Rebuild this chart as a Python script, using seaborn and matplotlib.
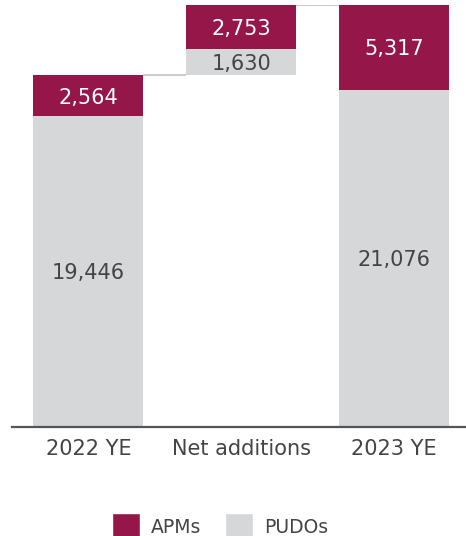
import matplotlib
matplotlib.use("Agg")
import matplotlib.pyplot as plt
import seaborn as sns
import pandas as pd
from matplotlib.patches import Patch

categories = ["2022 YE", "Net additions", "2023 YE"]
pudos = [19446, 1630, 21076]
apms = [2564, 2753, 5317]

RED = "#95174A"
GREY = "#D6D7D9"
TEXT = "#444444"

sns.set_theme(style="white")
plt.rcParams["font.family"] = ["DejaVu Sans"]

# floating base for the net-additions step
base = [0, pudos[0] + apms[0], 0]
grey_top = [b + p for b, p in zip(base, pudos)]
df = pd.DataFrame({"cat": categories, "pudo": pudos, "apm": apms,
                   "base": base, "grey_top": grey_top})

fig = plt.figure(figsize=(4.66, 5.36), dpi=100)
H = 536
ax = fig.add_axes([12 / 466, (536 - 426.7) / H, 1 - 12 / 466, (426.7 - 5) / H])

w = 0.72
sns.barplot(data=df, x="cat", y="pudo", bottom=df["base"], color=GREY,
            width=w, saturation=1, ax=ax, linewidth=0)
sns.barplot(data=df, x="cat", y="apm", bottom=df["grey_top"], color=RED,
            width=w, saturation=1, ax=ax, linewidth=0)

total = [g + a for g, a in zip(grey_top, apms)]
ax.set_ylim(0, max(total))
ax.set_xlim(-0.5, 2.47)

# connectors between steps
for i in range(len(categories) - 1):
    y = total[i]
    ax.plot([i + w / 2, i + 1 - w / 2], [y, y], color="#CCCCCC", lw=1.5,
            solid_capstyle="butt", zorder=0)

fs = 15
for i in range(len(categories)):
    ax.text(i, base[i] + pudos[i] / 2, f"{pudos[i]:,}", ha="center",
            va="center_baseline", color=TEXT, fontsize=fs)
    ax.text(i, grey_top[i] + apms[i] / 2, f"{apms[i]:,}", ha="center",
            va="center_baseline", color="white", fontsize=fs)

ax.set_xlabel("")
ax.set_ylabel("")
ax.set_yticks([])
ax.tick_params(axis="x", length=0, labelsize=15, labelcolor=TEXT, pad=9)
for s in ["top", "right", "left"]:
    ax.spines[s].set_visible(False)
ax.spines["bottom"].set_color("#555555")
ax.spines["bottom"].set_linewidth(1.6)

handles = [Patch(facecolor=RED, label="APMs"), Patch(facecolor=GREY, label="PUDOs")]
fig.legend(handles=handles, loc="lower center", bbox_to_anchor=(0.472, -0.039),
           ncol=2, frameon=False, fontsize=13.5, handlelength=1.5, handleheight=1.8,
           handletextpad=0.55, columnspacing=1.3, labelcolor=TEXT)

fig.savefig("out.png", dpi=100)
